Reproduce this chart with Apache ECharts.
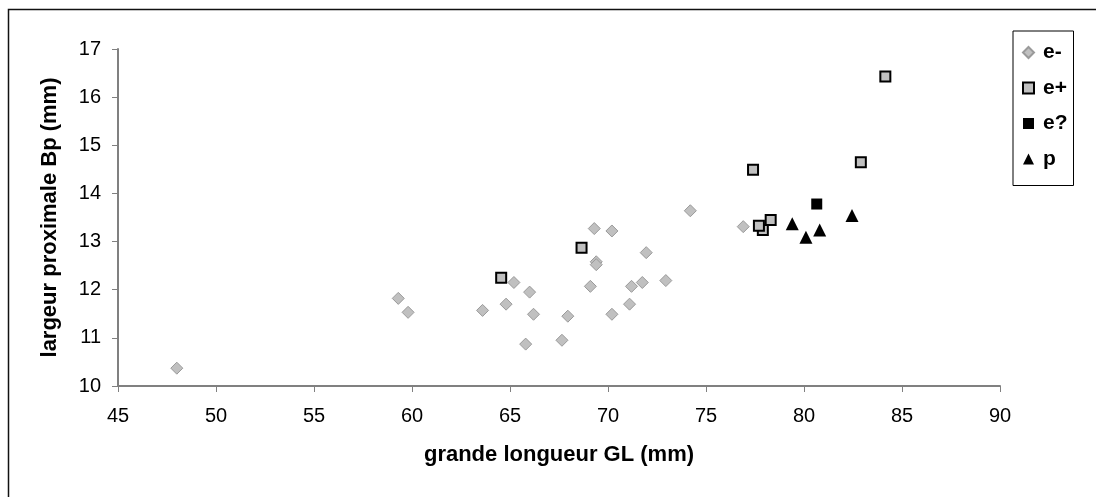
<!DOCTYPE html>
<html>
<head>
<meta charset="utf-8">
<script src="https://cdn.jsdelivr.net/npm/echarts@6/dist/echarts.min.js"></script>
<style>
html,body{margin:0;padding:0;background:#fff;}
#chart{width:1096px;height:497px;}
</style>
</head>
<body>
<div id="chart"></div>
<script>
// Data: [GL (mm), Bp (mm)]
const eMinus = [
  [48.0, 10.37], [59.3, 11.82], [59.8, 11.53], [63.6, 11.57], [64.8, 11.70],
  [65.2, 12.15], [65.8, 10.87], [66.0, 11.95], [66.2, 11.49], [67.65, 10.95],
  [67.95, 11.45], [69.1, 12.07], [69.3, 13.27], [69.4, 12.58], [69.4, 12.52],
  [70.2, 13.22], [70.2, 11.49], [71.1, 11.70], [71.2, 12.07], [71.75, 12.15],
  [71.95, 12.77], [72.95, 12.19], [74.2, 13.64], [76.9, 13.31]
];
const ePlus = [
  [64.55, 12.25], [68.65, 12.87], [77.4, 14.49], [77.9, 13.24], [77.7, 13.33],
  [78.3, 13.45], [82.9, 14.65], [84.15, 16.43]
];
const eQuestion = [
  [80.65, 13.78]
];
const pSeries = [
  [79.4, 13.37], [80.1, 13.09], [80.8, 13.24], [82.45, 13.54]
];
const seriesNames = ['e-', 'e+', 'e?', 'p'];
const xTitle = 'grande longueur GL (mm)';
const yTitle = 'largeur proximale Bp (mm)';

const FONT = '"Liberation Sans", Arial, sans-serif';
const chart = echarts.init(document.getElementById('chart'), null, {renderer: 'canvas'});

const axisCommon = {
  axisLine: {show: true, lineStyle: {color: '#808080', width: 2}},
  axisTick: {show: true, length: 6, lineStyle: {color: '#808080', width: 1}},
  splitLine: {show: false},
  axisLabel: {color: '#000', fontSize: 20, fontFamily: FONT},
  nameTextStyle: {color: '#000', fontSize: 22, fontWeight: 'bold', fontFamily: FONT}
};

chart.setOption({
  animation: false,
  backgroundColor: '#fff',
  grid: {left: 118, right: 96, top: 49, bottom: 111, containLabel: false},
  xAxis: Object.assign({}, axisCommon, {
    type: 'value', min: 45, max: 90, interval: 5,
    name: xTitle, nameLocation: 'middle', nameGap: 58,
    axisLabel: Object.assign({}, axisCommon.axisLabel, {margin: 20})
  }),
  yAxis: Object.assign({}, axisCommon, {
    type: 'value', min: 10, max: 17, interval: 1,
    name: yTitle, nameLocation: 'middle', nameGap: 57, nameRotate: 90,
    axisLabel: Object.assign({}, axisCommon.axisLabel, {margin: 17})
  }),
  legend: {
    orient: 'vertical', left: 1013, top: 31,
    padding: [11, 6, 16, 9],
    itemGap: 14.5, itemWidth: 11, itemHeight: 11,
    borderColor: '#000', borderWidth: 1,
    textStyle: {color: '#000', fontSize: 21, fontWeight: 'bold', fontFamily: FONT, padding: [0, 0, 0, 4]},
    data: seriesNames
  },
  graphic: [{
    type: 'rect', silent: true, z: -1,
    shape: {x: 8.5, y: 9.5, width: 1200, height: 600},
    style: {fill: 'none', stroke: '#111', lineWidth: 1.5}
  }],
  series: [
    {name: seriesNames[0], type: 'scatter', symbol: 'diamond', symbolSize: 12, data: eMinus,
     itemStyle: {color: '#c0c0c0', borderColor: '#9a9a9a', borderWidth: 1, opacity: 1}},
    {name: seriesNames[1], type: 'scatter', symbol: 'rect', symbolSize: 10, data: ePlus,
     itemStyle: {color: '#c0c0c0', borderColor: '#000', borderWidth: 2, opacity: 1}},
    {name: seriesNames[2], type: 'scatter', symbol: 'rect', symbolSize: 11, data: eQuestion,
     itemStyle: {color: '#000', borderColor: '#000', borderWidth: 0, opacity: 1}},
    {name: seriesNames[3], type: 'scatter', symbol: 'triangle', symbolSize: 13, data: pSeries,
     itemStyle: {color: '#000', borderColor: '#000', borderWidth: 0, opacity: 1}}
  ]
});
</script>
</body>
</html>
